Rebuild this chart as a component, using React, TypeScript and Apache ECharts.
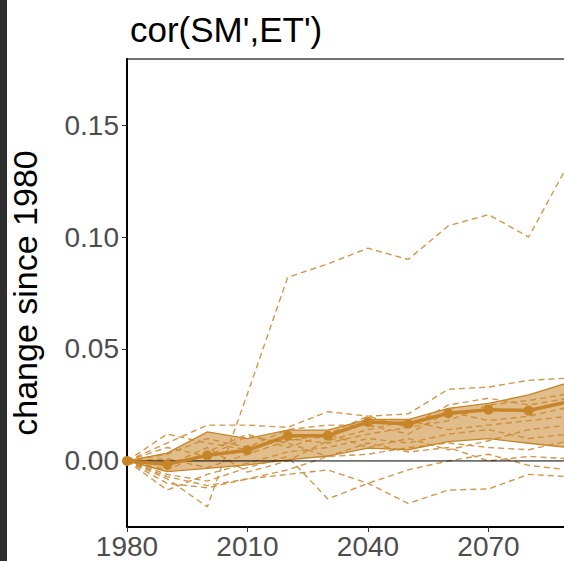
import React, { useEffect, useRef } from "react";
import * as echarts from "echarts";

const years = [1980, 1990, 2000, 2010, 2020, 2030, 2040, 2050, 2060, 2070, 2080, 2090, 2100];
const meanValues = [0, -0.0015, 0.0025, 0.0048, 0.0112, 0.0113, 0.0174, 0.0166, 0.0213, 0.0229, 0.0225, 0.0265, 0.029];
const ribbonUpper = [0, 0.0035, 0.013, 0.010, 0.0138, 0.0138, 0.0186, 0.0185, 0.0235, 0.0257, 0.0295, 0.035, 0.037];
const ribbonLower = [0, -0.0048, -0.0033, -0.0018, 0.0005, 0.0022, 0.0057, 0.005, 0.0086, 0.010, 0.0079, 0.006, 0.007];

const member01 = [0, -0.008, -0.0205, 0.030, 0.082, 0.088, 0.095, 0.090, 0.105, 0.110, 0.100, 0.133, 0.165];
const member02 = [0, 0.008, 0.016, 0.016, 0.015, 0.022, 0.020, 0.021, 0.032, 0.033, 0.036, 0.037, 0.040];
const member03 = [0, -0.006, -0.009, -0.003, 0.002, -0.017, -0.010, -0.004, 0.000, 0.003, -0.002, -0.004, 0.000];
const member04 = [0, -0.010, -0.012, -0.008, -0.006, -0.004, -0.010, -0.019, -0.013, -0.0125, -0.006, -0.007, -0.005];
const member05 = [0, 0.012, 0.008, 0.005, 0.010, 0.008, 0.012, 0.015, 0.018, 0.025, 0.027, 0.030, 0.032];
const member06 = [0, -0.004, 0.004, 0.012, 0.006, 0.012, 0.020, 0.015, 0.025, 0.028, 0.025, 0.028, 0.030];
const member07 = [0, 0.003, 0.010, 0.006, 0.014, 0.016, 0.016, 0.012, 0.022, 0.018, 0.020, 0.024, 0.026];
const member08 = [0, -0.013, -0.006, -0.001, 0.004, 0.006, 0.010, 0.008, 0.012, 0.014, 0.010, 0.012, 0.014];
const member09 = [0, -0.007, -0.011, -0.008, -0.004, 0.002, 0.003, 0.006, 0.008, 0.006, 0.005, 0.009, 0.010];
const member10 = [0, 0.006, 0.002, 0.011, 0.008, 0.002, 0.008, 0.004, 0.006, 0.000, 0.002, 0.001, 0.003];
const member11 = [0, -0.002, 0.006, -0.005, 0.000, 0.009, 0.014, 0.018, 0.014, 0.016, 0.018, 0.020, 0.022];
const member12 = [0, 0.001, -0.003, 0.003, 0.009, 0.012, 0.006, 0.010, 0.005, 0.009, 0.014, 0.016, 0.018];

const members = [member01, member02, member03, member04, member05, member06, member07, member08, member09, member10, member11, member12];

const xTicks = [1980, 2010, 2040, 2070];
const yTicks = [0, 0.05, 0.1, 0.15];

const FONT = "'Liberation Sans', Arial, Helvetica, sans-serif";
const BROWN = "#c68528";

export default function App() {
  const ref = useRef<HTMLDivElement>(null);
  useEffect(() => {
    if (!ref.current) return;
    const chart = echarts.init(ref.current, null, { renderer: "svg" });
    const pair = (vals: number[]) => years.map((y, i) => [y, vals[i]]);
    const memberSeries = members.map((m) => ({
      type: "line",
      data: pair(m),
      symbol: "none",
      silent: true,
      z: 2,
      lineStyle: { color: "rgba(205,140,55,0.9)", width: 1.4, type: [6, 4] },
    }));
    const option: any = {
      animation: false,
      title: {
        text: "cor(SM',ET')",
        left: 125,
        top: 7,
        textStyle: { fontFamily: FONT, fontSize: 35, fontWeight: "normal", color: "#000" },
      },
      grid: {
        left: 127,
        top: 59,
        right: 0,
        bottom: 34,
        outerBoundsMode: "none",
        containLabel: false,
        show: true,
        borderColor: "#444",
        borderWidth: 1.5,
        backgroundColor: "#fff",
      },
      xAxis: {
        type: "value",
        min: 1980,
        max: 2100,
        splitLine: { show: false },
        axisLine: { show: true, onZero: false, lineStyle: { color: "#000", width: 2 } },
        axisTick: { show: true, length: 5, customValues: xTicks, lineStyle: { color: "#333", width: 1 } },
        axisLabel: {
          customValues: xTicks,
          fontFamily: FONT,
          fontSize: 28,
          color: "#4d4d4d",
          margin: 5,
          formatter: (v: number) => String(v),
        },
      },
      yAxis: {
        type: "value",
        min: -0.0295,
        max: 0.1795,
        splitLine: { show: false },
        axisLine: { show: true, onZero: false, lineStyle: { color: "#000", width: 2 } },
        axisTick: { show: true, length: 5, customValues: yTicks, lineStyle: { color: "#333", width: 1 } },
        axisLabel: {
          customValues: yTicks,
          fontFamily: FONT,
          fontSize: 28,
          color: "#4d4d4d",
          margin: 8,
          formatter: (v: number) => v.toFixed(2),
        },
        name: "change since 1980",
        nameLocation: "middle",
        nameRotate: 90,
        nameGap: 85,
        nameTextStyle: { fontFamily: FONT, fontSize: 34, color: "#000" },
      },
      series: [
        ...memberSeries,
        {
          type: "custom",
          data: [[1980, 0]],
          z: 3,
          silent: true,
          renderItem: (params: any, api: any) => {
            if (params.dataIndex !== 0) return null;
            const up = years.map((y, i) => api.coord([y, ribbonUpper[i]]));
            const lo = years.map((y, i) => api.coord([y, ribbonLower[i]])).reverse();
            return {
              type: "polygon",
              shape: { points: up.concat(lo) },
              style: { fill: "rgba(201,138,48,0.56)", stroke: BROWN, lineWidth: 1.3 },
            };
          },
        },
        {
          type: "line",
          data: [[1980, 0], [2100, 0]],
          symbol: "none",
          silent: true,
          z: 4,
          lineStyle: { color: "#000", width: 1 },
        },
        {
          type: "line",
          data: pair(meanValues),
          symbol: "circle",
          symbolSize: 10,
          showAllSymbol: true,
          z: 5,
          itemStyle: { color: BROWN },
          lineStyle: { color: BROWN, width: 3.5 },
        },
      ],
    };
    chart.setOption(option);
    return () => chart.dispose();
  }, []);
  return (
    <div style={{ position: "fixed", left: 0, top: 0, width: 564, height: 561, background: "#fff", overflow: "hidden" }}>
      <div style={{ position: "absolute", left: 0, top: 0, width: 7, height: 561, background: "#2e2e2e", zIndex: 2 }} />
      <div ref={ref} style={{ position: "absolute", left: 0, top: 0, width: 609, height: 561 }} />
    </div>
  );
}
